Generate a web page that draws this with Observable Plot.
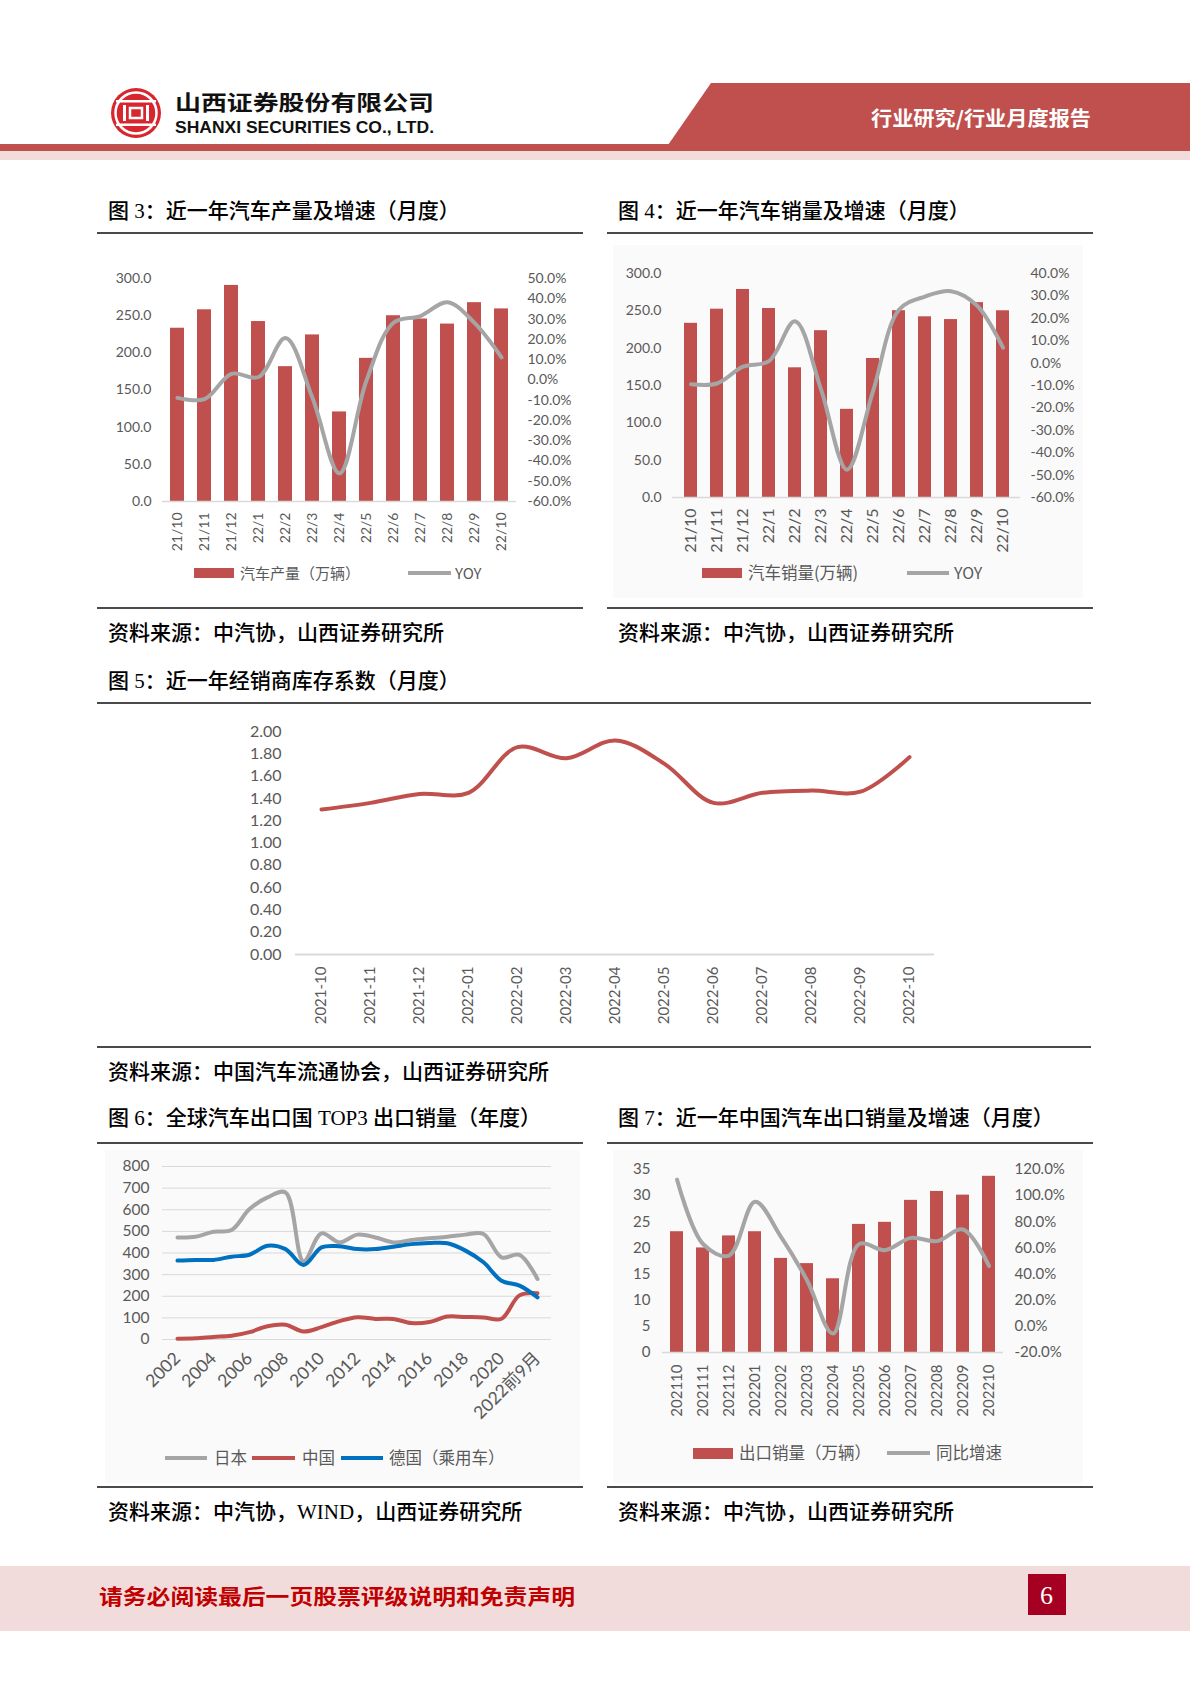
<!DOCTYPE html>
<html>
<head>
<meta charset="utf-8">
<script src="https://cdn.jsdelivr.net/npm/d3@7"></script>
<script src="https://cdn.jsdelivr.net/npm/@observablehq/plot@0.6"></script>
<style>
html,body{margin:0;padding:0;background:#fff;}
body{width:1190px;height:1683px;position:relative;overflow:hidden;font-family:"Noto Sans CJK SC",sans-serif;}
.chart{position:absolute;}
.box{position:absolute;}
</style>
</head>
<body>
<script>
// ---------------- DATA ----------------
const months = ["21/10","21/11","21/12","22/1","22/2","22/3","22/4","22/5","22/6","22/7","22/8","22/9","22/10"];
const production = [233.1,257.9,290.7,242.1,181.4,224.1,120.5,192.6,249.9,245.5,238.7,267.5,259.1];
const productionYoy = [-8.9,-9.5,3.0,1.4,20.6,-9.0,-46.1,-0.3,28.2,31.5,38.3,28.1,11.1];
const sales = [233.3,252.2,278.6,253.1,173.7,223.4,118.1,186.2,250.2,242.0,238.3,261.0,250.1];
const salesYoy = [-9.4,-9.1,-1.6,0.9,18.7,-11.7,-47.6,-12.6,23.8,29.7,32.1,25.7,6.9];
const volumeTicks = [0,50,100,150,200,250,300];
const prodYoyTicks = [-60,-50,-40,-30,-20,-10,0,10,20,30,40,50];
const salesYoyTicks = [-60,-50,-40,-30,-20,-10,0,10,20,30,40];

const invMonths = ["2021-10","2021-11","2021-12","2022-01","2022-02","2022-03","2022-04","2022-05","2022-06","2022-07","2022-08","2022-09","2022-10"];
const inventory = [1.30,1.36,1.44,1.45,1.86,1.76,1.92,1.71,1.36,1.45,1.47,1.46,1.77];
const invTicks = [0,0.2,0.4,0.6,0.8,1.0,1.2,1.4,1.6,1.8,2.0];

const years = ["2002","2003","2004","2005","2006","2007","2008","2009","2010","2011","2012","2013","2014","2015","2016","2017","2018","2019","2020","2021","2022前9月"];
const yearLabels = ["2002","2004","2006","2008","2010","2012","2014","2016","2018","2020","2022前9月"];
const japan = [472,475,498,506,603,657,680,362,491,449,485,472,449,460,468,475,485,488,380,391,280];
const china = [4,6,12,17,34,61,68,37,57,85,103,95,95,76,81,106,104,102,96,204,214];
const germany = [365,368,368,383,392,434,418,345,426,431,418,418,429,441,446,445,411,357,272,249,195];
const exportTicks6 = [0,100,200,300,400,500,600,700,800];

const exportMonths = ["202110","202111","202112","202201","202202","202203","202204","202205","202206","202207","202208","202209","202210"];
const exportVol = [23.1,20.0,22.3,23.1,18.0,17.0,14.1,24.5,24.9,29.1,30.8,30.1,33.7];
const exportYoy = [112.3,63.0,54.2,95.3,68.5,35.3,-5.5,62.9,58.3,67.7,65.2,74.1,46.3];
const exportVolTicks = [0,5,10,15,20,25,30,35];
const exportYoyTicks = [-20,0,20,40,60,80,100,120];

// ---------------- HELPERS ----------------
const RED = "#c0504d", GRAY = "#a5a5a5", BLUE = "#0070c0", TXT = "#595959";
function el(tag, cls, style) {
  const d = document.createElement(tag);
  if (cls) d.className = cls;
  Object.assign(d.style, style || {});
  document.body.appendChild(d);
  return d;
}
function text(str, x, yc, size, opt = {}) {
  const {family = '"Noto Sans CJK SC"', weight = 400, color = "#000", k = 0.556, fit = null, spacing = 0} = opt;
  const d = el("div", null, {position:"absolute", left:x+"px", top:(yc - k*size)+"px", fontSize:size+"px",
    lineHeight:"1", fontFamily:family, fontWeight:weight, color, whiteSpace:"nowrap", transformOrigin:"0 50%",
    letterSpacing: spacing+"px"});
  d.textContent = str;
  if (fit) { const w = d.getBoundingClientRect().width; d.style.transform = `scaleX(${fit/w})`; }
  return d;
}
function box(x, y, w, h, bg) { return el("div", "box", {left:x+"px", top:y+"px", width:w+"px", height:h+"px", background:bg}); }
function place(node, left, top) {
  const d = el("div", "chart", {left:left+"px", top:top+"px"});
  d.appendChild(node);
}
function fmtNum(v, n) { return (Math.round(v * Math.pow(10,n)) / Math.pow(10,n) + 0).toFixed(n); }

function dualBar(o) {
  const [l0,l1] = o.leftDomain, [r0,r1] = o.rightDomain;
  const toLeft = v => l0 + (v - r0) / (r1 - r0) * (l1 - l0);
  const fromLeft = u => r0 + (u - l0) / (l1 - l0) * (r1 - r0);
  const data = o.cats.map((c,i) => ({c, b:o.bars[i], l:toLeft(o.line[i])}));
  return Plot.plot({
    width:o.width, height:o.height,
    marginLeft:o.m[0], marginRight:o.m[1], marginTop:o.m[2], marginBottom:o.m[3],
    style:{fontFamily:"Lato, 'Noto Sans CJK SC'", fontSize:o.fs+"px", color:TXT, background:"none", overflow:"visible"},
    x:{type:"band", domain:o.cats, paddingInner:0.5, paddingOuter:0.25, label:null},
    y:{domain:o.leftDomain, label:null},
    marks:[
      Plot.barY(data, {x:"c", y:"b", fill:RED}),
      Plot.ruleY([l0], {stroke:"#d9d9d9", strokeWidth:1.5}),
      Plot.line(data, {x:"c", y:"l", stroke:GRAY, strokeWidth:4, curve:"catmull-rom"}),
      Plot.axisY({anchor:"left", ticks:o.leftTicks, tickSize:0, tickPadding:o.pad[0], tickFormat:o.leftFormat, fontSize:o.fs, label:null}),
      Plot.axisY({anchor:"right", ticks:o.rightTicks.map(toLeft), tickSize:0, tickPadding:o.pad[1],
        tickFormat:d => fmtNum(fromLeft(d),1) + "%", fontSize:o.rfs || o.fs, label:null}),
      Plot.axisX({tickRotate:-90, tickSize:0, tickPadding:o.pad[2], fontSize:o.xfs, label:null})
    ]
  });
}
function legendRect(x, y, w, h) { box(x, y, w, h, RED); }
function legendLine(x1, x2, yc, color) { box(x1, yc-2, x2-x1, 4, color); }

// ---------------- HEADER ----------------
const hdr = document.createElementNS("http://www.w3.org/2000/svg","svg");
hdr.setAttribute("width","1190"); hdr.setAttribute("height","170");
hdr.style.position = "absolute"; hdr.style.left = "0"; hdr.style.top = "0";
hdr.innerHTML = `
  <polygon points="711,83 1190,83 1190,145 668,145" fill="${RED}"/>
  <rect x="0" y="144" width="1190" height="7" fill="${RED}"/>
  <rect x="0" y="151" width="1190" height="9" fill="#f2dcdb"/>
  <g transform="translate(136,113)">
    <circle r="25" fill="#d7262d"/>
    <circle r="20.5" fill="none" stroke="#fff" stroke-width="2.5"/>
    <rect x="-20" y="-13" width="40" height="2.5" fill="#fff"/>
    <rect x="-20" y="10.5" width="40" height="2.5" fill="#fff"/>
    <rect x="-13" y="-8" width="3" height="16" fill="#fff"/>
    <rect x="10" y="-8" width="3" height="16" fill="#fff"/>
    <rect x="-6" y="-5" width="12" height="10" fill="none" stroke="#fff" stroke-width="2.5"/>
  </g>`;
document.body.appendChild(hdr);
text("山西证券股份有限公司", 175, 103, 21, {weight:700, fit:259, color:"#111"});
text("SHANXI SECURITIES CO., LTD.", 175, 127, 17, {family:'"Liberation Sans"', weight:700, fit:259, k:0.5, color:"#111"});
text("行业研究/行业月度报告", 871, 119, 20, {weight:700, fit:220, color:"#fff"});

// ---------------- FRAMES / TITLES ----------------
const TF = '"Liberation Serif","Noto Sans CJK SC"';
function frame(x1, x2, titleY, ruleY, bottomY, title, src) {
  text(title, x1 + 11, titleY, 21, {family:TF, k:0.47, weight:500});
  box(x1, ruleY, x2 - x1, 2, "#4a4a4a");
  box(x1, bottomY, x2 - x1, 2, "#4a4a4a");
  text(src, x1 + 11, bottomY + 26, 21, {family:TF, k:0.47, weight:500});
}
box(613, 245, 470, 353, "#fafafa");
box(105, 1150, 475, 333, "#fafafa");
box(613, 1150, 470, 333, "#fafafa");

frame(97, 583, 211, 232, 607, "图 3：近一年汽车产量及增速（月度）", "资料来源：中汽协，山西证券研究所");
frame(607, 1093, 211, 232, 607, "图 4：近一年汽车销量及增速（月度）", "资料来源：中汽协，山西证券研究所");
frame(97, 1091, 681, 702, 1046, "图 5：近一年经销商库存系数（月度）", "资料来源：中国汽车流通协会，山西证券研究所");
frame(97, 583, 1118, 1142, 1486, "图 6：全球汽车出口国 TOP3 出口销量（年度）", "资料来源：中汽协，WIND，山西证券研究所");
frame(607, 1093, 1118, 1142, 1486, "图 7：近一年中国汽车出口销量及增速（月度）", "资料来源：中汽协，山西证券研究所");

// ---------------- CHART 3 ----------------
place(dualBar({cats:months, bars:production, line:productionYoy, leftDomain:[0,300], rightDomain:[-60,50],
  leftTicks:volumeTicks, rightTicks:prodYoyTicks, leftFormat:d => fmtNum(d,1),
  width:486, height:320, m:[65,67,38,59], pad:[11,11,11], fs:14, xfs:14}), 97, 240);
legendRect(194, 568, 40, 10);
text("汽车产量（万辆）", 240, 573, 15, {color:TXT});
legendLine(408, 451, 573, GRAY);
text("YOY", 455, 573, 15, {color:TXT});

// ---------------- CHART 4 ----------------
place(dualBar({cats:months, bars:sales, line:salesYoy, leftDomain:[0,300], rightDomain:[-60,40],
  leftTicks:volumeTicks, rightTicks:salesYoyTicks, leftFormat:d => fmtNum(d,1),
  width:486, height:320, m:[65,73,33,63], pad:[11,10,11], fs:14, xfs:16}), 607, 240);
legendRect(702, 568, 40, 10);
text("汽车销量(万辆)", 748, 573, 16.5, {color:TXT});
legendLine(907, 949, 573, GRAY);
text("YOY", 954, 573, 16, {color:TXT});

// ---------------- CHART 5 ----------------
{
  const data = invMonths.map((m,i) => ({m, v:inventory[i]}));
  place(Plot.plot({
    width:994, height:335, marginLeft:198, marginRight:157, marginTop:26, marginBottom:86,
    style:{fontFamily:"Lato", fontSize:"15px", color:TXT, background:"none", overflow:"visible"},
    x:{type:"point", domain:invMonths, padding:0.5, label:null},
    y:{domain:[0,2], label:null},
    marks:[
      Plot.ruleY([0], {stroke:"#d9d9d9", strokeWidth:2}),
      Plot.line(data, {x:"m", y:"v", stroke:RED, strokeWidth:4, curve:"catmull-rom"}),
      Plot.axisY({ticks:invTicks, tickSize:0, tickPadding:14, tickFormat:d => fmtNum(d,2), fontSize:16, label:null}),
      Plot.axisX({tickRotate:-90, tickSize:0, tickPadding:12, fontSize:15, label:null})
    ]
  }), 97, 705);
}

// ---------------- CHART 6 ----------------
{
  const series = (arr) => years.map((y,i) => ({y, v:arr[i]}));
  place(Plot.plot({
    width:486, height:335, marginLeft:65, marginRight:32, marginTop:18, marginBottom:144,
    style:{fontFamily:"Lato, 'Noto Sans CJK SC'", fontSize:"15px", color:TXT, background:"none", overflow:"visible"},
    x:{type:"point", domain:years, padding:0.5, label:null},
    y:{domain:[0,800], label:null},
    marks:[
      Plot.ruleY(exportTicks6, {stroke:"#d9d9d9", strokeWidth:1}),
      Plot.line(series(japan), {x:"y", y:"v", stroke:GRAY, strokeWidth:4, curve:"catmull-rom"}),
      Plot.line(series(china), {x:"y", y:"v", stroke:RED, strokeWidth:4, curve:"catmull-rom"}),
      Plot.line(series(germany), {x:"y", y:"v", stroke:BLUE, strokeWidth:4, curve:"catmull-rom"}),
      Plot.axisY({ticks:exportTicks6, tickSize:0, tickPadding:13, fontSize:15.5, label:null}),
      Plot.axisX({ticks:yearLabels, tickRotate:-45, tickSize:0, tickPadding:16, fontSize:17.5, label:null})
    ]
  }), 97, 1148);
  legendLine(165, 207, 1458, GRAY);
  text("日本", 214, 1458, 16.5, {color:TXT});
  legendLine(252, 295, 1458, RED);
  text("中国", 302, 1458, 16.5, {color:TXT});
  legendLine(341, 383, 1458, BLUE);
  text("德国（乘用车）", 389, 1458, 16.5, {color:TXT});
}

// ---------------- CHART 7 ----------------
place(dualBar({cats:exportMonths, bars:exportVol, line:exportYoy, leftDomain:[0,35], rightDomain:[-20,120],
  leftTicks:exportVolTicks, rightTicks:exportYoyTicks, leftFormat:d => fmtNum(d,0),
  width:486, height:335, m:[55,90,21,131], pad:[12,11,12], fs:15, rfs:15, xfs:15}), 607, 1148);
legendRect(693, 1448, 40, 11);
text("出口销量（万辆）", 739, 1453, 16.5, {color:TXT});
legendLine(887, 930, 1453, GRAY);
text("同比增速", 936, 1453, 16.5, {color:TXT});

// ---------------- FOOTER ----------------
box(0, 1566, 1190, 65, "#f2dcdb");
text("请务必阅读最后一页股票评级说明和免责声明", 99, 1597, 21, {weight:700, color:"#c00000", fit:476});
box(1028, 1574, 38, 41, "#a50021");
text("6", 1040, 1595, 26, {family:'"Liberation Serif"', color:"#fff", k:0.45});
</script>
</body>
</html>
